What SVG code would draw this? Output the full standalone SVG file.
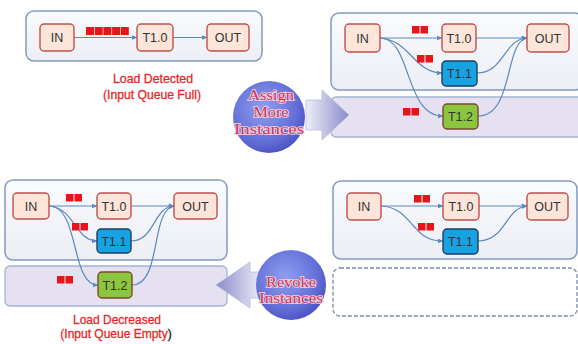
<svg xmlns="http://www.w3.org/2000/svg" width="578" height="344" viewBox="0 0 578 344">
  <defs>
    <style>
      .panel { fill: url(#panelFill); stroke: #8499bd; stroke-width: 1.5; }
      .band { fill: #e5e1f1; stroke: #a3b3d3; stroke-width: 1.3; }
      .slot { fill: #ffffff; stroke: #7d8ba3; stroke-width: 1.3; stroke-dasharray: 4 2; }
      .node { fill: #fde5da; stroke: #c0504d; stroke-width: 1.4; }
      .blue { fill: #17a3e3; stroke: #1d3f5e; stroke-width: 1.4; }
      .green { fill: #8cc63f; stroke: #7a4a2c; stroke-width: 1.4; }
      .lbl { font-family: "Liberation Sans", Arial, sans-serif; font-size: 12.5px; fill: #333333; text-anchor: middle; }
      .cap { font-family: "Liberation Sans", Arial, sans-serif; font-size: 13px; fill: #e8262b; stroke: #e8262b; stroke-width: 0.3; text-anchor: middle; }
      .dark { fill: #111111; stroke: #111111; }
      .ctext { font-family: "Liberation Serif", "Times New Roman", serif; font-size: 14px; fill: #c8365a; stroke: #f6d3de; stroke-width: 1.6; paint-order: stroke; text-anchor: middle; }
      .q { fill: #e8141c; }
      .edge { fill: none; stroke: #5a88bf; stroke-width: 1.2; marker-end: url(#arr); }
    </style>
    <linearGradient id="panelFill" x1="0" y1="0" x2="0" y2="1">
      <stop offset="0" stop-color="#fafbfd"/>
      <stop offset="1" stop-color="#eceef5"/>
    </linearGradient>
    <radialGradient id="ball" cx="0.42" cy="0.38" r="0.65">
      <stop offset="0" stop-color="#8f9ef0"/>
      <stop offset="0.7" stop-color="#6470d8"/>
      <stop offset="1" stop-color="#4a52c2"/>
    </radialGradient>
    <linearGradient id="arrowR" x1="0" y1="0" x2="1" y2="0">
      <stop offset="0" stop-color="#eeeef8"/>
      <stop offset="1" stop-color="#8a8acc"/>
    </linearGradient>
    <linearGradient id="arrowL" x1="1" y1="0" x2="0" y2="0">
      <stop offset="0" stop-color="#eeeef8"/>
      <stop offset="1" stop-color="#8a8acc"/>
    </linearGradient>
    <marker id="arr" viewBox="0 0 10 10" refX="9" refY="5" markerWidth="5" markerHeight="5" orient="auto">
      <path d="M0,1 L10,5 L0,9 z" fill="#5a88bf"/>
    </marker>
  </defs>

  <!-- containers -->
  <rect class="panel" x="26" y="11" width="236" height="50" rx="8"/>
  <rect class="panel" x="331" y="13" width="252" height="77" rx="8"/>
  <rect class="band" x="331" y="97" width="252" height="40" rx="5"/>
  <rect class="panel" x="5" y="180" width="222" height="80" rx="8"/>
  <rect class="band" x="5" y="266" width="222" height="40" rx="5"/>
  <rect class="panel" x="333" y="181" width="244" height="78" rx="8"/>
  <rect class="slot" x="333" y="268" width="244" height="48" rx="7"/>

  <!-- transition arrows -->
  <g id="assign">
    <polygon points="306,100 322,100 322,90 349,115 322,140 322,130 306,130" fill="url(#arrowR)" stroke="#b9bcd8" stroke-width="0.8"/>
    <circle cx="269" cy="117" r="36" fill="url(#ball)"/>
    <text class="ctext" x="271" y="100" textLength="46" lengthAdjust="spacingAndGlyphs">Assign</text>
    <text class="ctext" x="271" y="117" textLength="35" lengthAdjust="spacingAndGlyphs">More</text>
    <text class="ctext" x="269" y="134" textLength="70" lengthAdjust="spacingAndGlyphs">Instances</text>
  </g>
  <g id="revoke">
    <polygon points="216,285 250,262 250,272 262,272 262,298 250,298 250,308" fill="url(#arrowL)" stroke="#b9bcd8" stroke-width="0.8"/>
    <circle cx="291" cy="285" r="35" fill="url(#ball)"/>
    <text class="ctext" x="291" y="287" textLength="50" lengthAdjust="spacingAndGlyphs">Revoke</text>
    <text class="ctext" x="291" y="303" textLength="64" lengthAdjust="spacingAndGlyphs">Instances</text>
  </g>

  <!-- connectors -->
  <g id="connectors">
    <path class="edge" d="M74,37.5 L137,37.5"/>
    <path class="edge" d="M173,37.5 L207,37.5"/>

    <path class="edge" d="M380,38 L442,38"/>
    <path class="edge" d="M380,38 C410,40 414,73 442,73"/>
    <path class="edge" d="M380,38 C412,38 404,116 443,116"/>
    <path class="edge" d="M476,38 L527,38"/>
    <path class="edge" d="M477,73 C504,73 504,39 527,38"/>
    <path class="edge" d="M478,116 C514,116 504,42 527,38"/>

    <path class="edge" d="M49,206 L97,206"/>
    <path class="edge" d="M49,206 C75,208 75,241 97,241"/>
    <path class="edge" d="M49,206 C80,206 70,285 98,285"/>
    <path class="edge" d="M131,206 L174,206"/>
    <path class="edge" d="M131,241 C155,241 153,207 174,206"/>
    <path class="edge" d="M132,285 C162,285 150,210 174,206"/>

    <path class="edge" d="M381,206 L443,206"/>
    <path class="edge" d="M381,206 C414,208 410,241 443,241"/>
    <path class="edge" d="M479,206 L527,206"/>
    <path class="edge" d="M478,241 C506,241 505,208 527,206"/>
  </g>

  <!-- queued items -->
  <g id="queues">
    <rect class="q" x="86" y="27" width="8" height="8"/>
    <rect class="q" x="94.7" y="27" width="8" height="8"/>
    <rect class="q" x="103.4" y="27" width="8" height="8"/>
    <rect class="q" x="112.1" y="27" width="8" height="8"/>
    <rect class="q" x="120.8" y="27" width="8" height="8"/>

    <rect class="q" x="412" y="26" width="7.5" height="7.5"/>
    <rect class="q" x="420.5" y="26" width="7.5" height="7.5"/>
    <rect class="q" x="417" y="55" width="7.5" height="7.5"/>
    <rect class="q" x="425.5" y="55" width="7.5" height="7.5"/>
    <rect class="q" x="403" y="108" width="7.5" height="7.5"/>
    <rect class="q" x="411.5" y="108" width="7.5" height="7.5"/>

    <rect class="q" x="66" y="194" width="7.5" height="7.5"/>
    <rect class="q" x="74.5" y="194" width="7.5" height="7.5"/>
    <rect class="q" x="72" y="223" width="7.5" height="7.5"/>
    <rect class="q" x="80.5" y="223" width="7.5" height="7.5"/>
    <rect class="q" x="57" y="276" width="7.5" height="7.5"/>
    <rect class="q" x="65.5" y="276" width="7.5" height="7.5"/>

    <rect class="q" x="414" y="195" width="7.5" height="7.5"/>
    <rect class="q" x="422.5" y="195" width="7.5" height="7.5"/>
    <rect class="q" x="418" y="223" width="7.5" height="7.5"/>
    <rect class="q" x="426.5" y="223" width="7.5" height="7.5"/>
  </g>

  <!-- panel 1 nodes -->
  <g id="p1-in"><rect class="node" x="40" y="24" width="34" height="27" rx="4"/><text class="lbl" x="57" y="42">IN</text></g>
  <g id="p1-t10"><rect class="node" x="137" y="24" width="36" height="27" rx="4"/><text class="lbl" x="155" y="42">T1.0</text></g>
  <g id="p1-out"><rect class="node" x="207" y="24" width="42" height="27" rx="4"/><text class="lbl" x="228" y="42">OUT</text></g>

  <!-- panel 2 nodes -->
  <g id="p2-in"><rect class="node" x="345" y="24" width="35" height="28" rx="4"/><text class="lbl" x="362.5" y="42.5">IN</text></g>
  <g id="p2-t10"><rect class="node" x="442" y="24" width="34" height="28" rx="4"/><text class="lbl" x="459" y="42.5">T1.0</text></g>
  <g id="p2-out"><rect class="node" x="527" y="24" width="42" height="28" rx="4"/><text class="lbl" x="548" y="42.5">OUT</text></g>
  <g id="p2-t11"><rect class="blue" x="442" y="61" width="35" height="25" rx="4"/><text class="lbl" x="459.5" y="78">T1.1</text></g>
  <g id="p2-t12"><rect class="green" x="443" y="104" width="35" height="25" rx="4"/><text class="lbl" x="460.5" y="121">T1.2</text></g>

  <!-- panel 3 nodes -->
  <g id="p3-in"><rect class="node" x="13" y="193" width="36" height="26" rx="4"/><text class="lbl" x="31" y="210.5">IN</text></g>
  <g id="p3-t10"><rect class="node" x="97" y="193" width="34" height="26" rx="4"/><text class="lbl" x="114" y="210.5">T1.0</text></g>
  <g id="p3-out"><rect class="node" x="174" y="193" width="43" height="26" rx="4"/><text class="lbl" x="195.5" y="210.5">OUT</text></g>
  <g id="p3-t11"><rect class="blue" x="97" y="229" width="34" height="24" rx="4"/><text class="lbl" x="114" y="245.5">T1.1</text></g>
  <g id="p3-t12"><rect class="green" x="98" y="272" width="34" height="26" rx="4"/><text class="lbl" x="115" y="289.5">T1.2</text></g>

  <!-- panel 4 nodes -->
  <g id="p4-in"><rect class="node" x="347" y="193" width="34" height="27" rx="4"/><text class="lbl" x="364" y="211">IN</text></g>
  <g id="p4-t10"><rect class="node" x="443" y="193" width="36" height="27" rx="4"/><text class="lbl" x="461" y="211">T1.0</text></g>
  <g id="p4-out"><rect class="node" x="527" y="193" width="41" height="27" rx="4"/><text class="lbl" x="547.5" y="211">OUT</text></g>
  <g id="p4-t11"><rect class="blue" x="443" y="229" width="35" height="25" rx="4"/><text class="lbl" x="460.5" y="246">T1.1</text></g>

  <!-- captions -->
  <text class="cap" x="153" y="83" textLength="80" lengthAdjust="spacingAndGlyphs">Load Detected</text>
  <text class="cap" x="152" y="99" textLength="98" lengthAdjust="spacingAndGlyphs">(Input Queue Full)</text>
  <text class="cap" x="117" y="324" textLength="88" lengthAdjust="spacingAndGlyphs">Load Decreased</text>
  <text class="cap" x="116" y="338" style="font-size:12px">(Input Queue Empty<tspan class="dark">)</tspan></text>
</svg>
